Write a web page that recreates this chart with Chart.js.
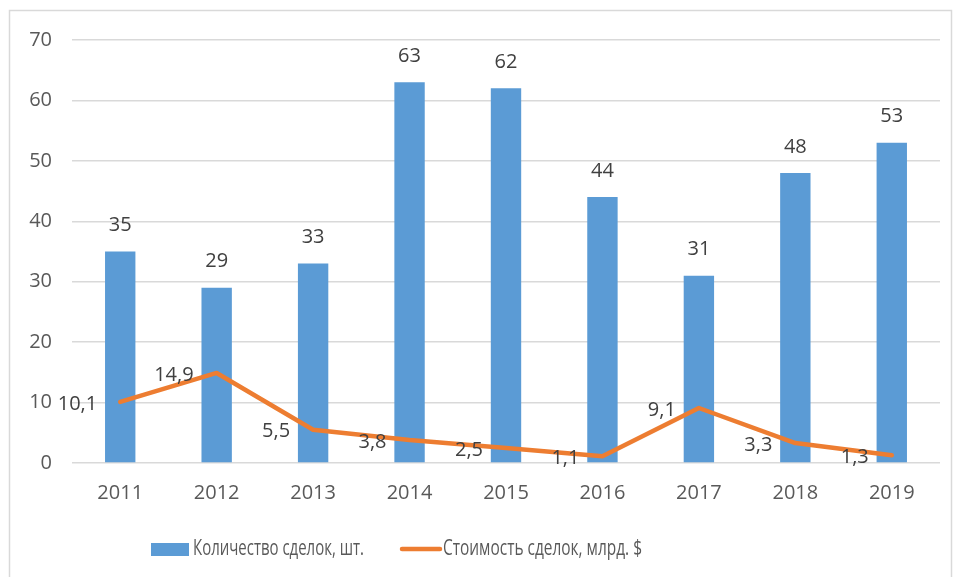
<!DOCTYPE html>
<html>
<head>
<meta charset="utf-8">
<script src="https://cdn.jsdelivr.net/npm/chart.js@4"></script>
<style>
   html, body { margin: 0; padding: 0; background: #ffffff; }
   #wrap { width: 955px; height: 577px; position: relative; }
</style>
</head>
<body>
<div id="wrap"><canvas id="chart" width="955" height="577"></canvas></div>
<script>
const years = ["2011", "2012", "2013", "2014", "2015", "2016", "2017", "2018", "2019"];
const dealCount = [35, 29, 33, 63, 62, 44, 31, 48, 53];
const dealValue = [10.1, 14.9, 5.5, 3.8, 2.5, 1.1, 9.1, 3.3, 1.3];
const countLabel = "Количество сделок, шт.";
const valueLabel = "Стоимость сделок, млрд. $";

const BLUE = "#5B9BD5";
const ORANGE = "#ED7D31";
const FONT = "'Open Sans', 'DejaVu Sans', sans-serif";

function fmt(v) {
   return String(v).replace(".", ",");
}

// frame around the whole chart
const framePlugin = {
   id: "frame",
   beforeDraw(chart) {
      const ctx = chart.ctx;
      ctx.save();
      ctx.strokeStyle = "#D9D9D9";
      ctx.lineWidth = 1.5;
      ctx.strokeRect(9.5, 10.5, 942, 570);
      ctx.restore();
   }
};

// value labels for bars and line points
const labelPlugin = {
   id: "valueLabels",
   afterDatasetsDraw(chart) {
      const ctx = chart.ctx;
      ctx.save();
      ctx.font = "20px " + FONT;
      ctx.fillStyle = "#404040";

      const bars = chart.getDatasetMeta(0).data;
      ctx.textAlign = "center";
      ctx.textBaseline = "middle";
      bars.forEach((el, i) => {
         ctx.fillText(fmt(dealCount[i]), el.x, el.y - 26);
      });

      const pts = chart.getDatasetMeta(1).data;
      ctx.textAlign = "right";
      pts.forEach((el, i) => {
         ctx.fillText(fmt(dealValue[i]), el.x - 23, el.y + 2);
      });
      ctx.restore();
   }
};

// legend at the bottom, drawn like the office one (narrow text)
const legendPlugin = {
   id: "bottomLegend",
   afterDraw(chart) {
      const ctx = chart.ctx;
      const y = 549;
      ctx.save();
      ctx.font = "22px " + FONT;
      ctx.textAlign = "left";
      ctx.textBaseline = "middle";

      ctx.fillStyle = BLUE;
      ctx.fillRect(151, y - 6, 38, 13);
      ctx.fillStyle = "#595959";
      ctx.fillText(countLabel, 193, y, 171);

      ctx.strokeStyle = ORANGE;
      ctx.lineWidth = 4.5;
      ctx.lineCap = "round";
      ctx.beginPath();
      ctx.moveTo(402, y);
      ctx.lineTo(440, y);
      ctx.stroke();
      ctx.fillText(valueLabel, 443, y, 199);
      ctx.restore();
   }
};

const ctx = document.getElementById("chart").getContext("2d");

new Chart(ctx, {
   data: {
      labels: years,
      datasets: [
         {
            type: "bar",
            label: countLabel,
            data: dealCount,
            backgroundColor: BLUE,
            categoryPercentage: 1,
            barPercentage: 0.315,
            order: 2,
         },
         {
            type: "line",
            label: valueLabel,
            data: dealValue,
            borderColor: ORANGE,
            backgroundColor: ORANGE,
            borderWidth: 4.5,
            borderJoinStyle: "round",
            borderCapStyle: "round",
            pointRadius: 0,
            tension: 0,
            order: 1,
         },
      ],
   },
   options: {
      responsive: false,
      animation: false,
      layout: { padding: { left: 0, right: 15, top: 40, bottom: 0 } },
      plugins: {
         legend: { display: false },
         tooltip: { enabled: false },
      },
      scales: {
         x: {
            grid: { display: false, drawTicks: false },
            border: { display: false },
            ticks: {
               color: "#595959",
               font: { family: FONT, size: 20 },
               padding: 18,
               maxRotation: 0,
            },
            afterFit(s) { s.height = 114; },
         },
         y: {
            min: 0,
            max: 70,
            grid: { color: "#D9D9D9", lineWidth: 1.5, drawTicks: false },
            border: { display: false },
            ticks: {
               stepSize: 10,
               color: "#595959",
               font: { family: FONT, size: 20 },
               padding: 20,
            },
            afterFit(s) { s.width = 72; },
         },
      },
   },
   plugins: [framePlugin, labelPlugin, legendPlugin],
});
</script>
</body>
</html>
